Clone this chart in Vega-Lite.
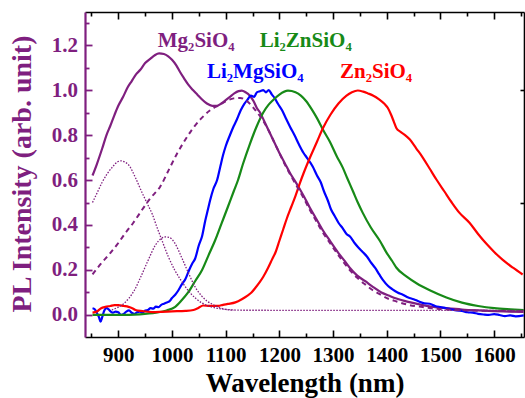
{
  "$schema": "https://vega.github.io/schema/vega-lite/v6.json",
  "width": 439,
  "height": 325,
  "autosize": "none",
  "padding": {"left": 85, "top": 12, "right": 1, "bottom": 61},
  "background": "white",
  "config": {
    "view": {"stroke": null},
    "axis": {"grid": false, "labelFont": "Liberation Serif", "titleFont": "Liberation Serif", "labelFontWeight": "bold", "titleFontWeight": "bold", "labelFlush": false}
  },
  "resolve": {"axis": {"x": "independent", "y": "independent"}},
  "datasets": {
    "solid": [
      {"s":"Mg2SiO4","w":852,"v":0.62},{"s":"Mg2SiO4","w":860,"v":0.67},{"s":"Mg2SiO4","w":870,"v":0.74},{"s":"Mg2SiO4","w":878,"v":0.8},{"s":"Mg2SiO4","w":885,"v":0.84},{"s":"Mg2SiO4","w":893,"v":0.89},{"s":"Mg2SiO4","w":900,"v":0.93},{"s":"Mg2SiO4","w":909,"v":0.97},{"s":"Mg2SiO4","w":917,"v":1.01},{"s":"Mg2SiO4","w":925,"v":1.04},{"s":"Mg2SiO4","w":933,"v":1.07},{"s":"Mg2SiO4","w":941,"v":1.09},{"s":"Mg2SiO4","w":950,"v":1.12},{"s":"Mg2SiO4","w":960,"v":1.14},{"s":"Mg2SiO4","w":968,"v":1.155},{"s":"Mg2SiO4","w":976,"v":1.163},{"s":"Mg2SiO4","w":985,"v":1.16},{"s":"Mg2SiO4","w":993,"v":1.15},{"s":"Mg2SiO4","w":1000,"v":1.135},{"s":"Mg2SiO4","w":1008,"v":1.11},{"s":"Mg2SiO4","w":1015,"v":1.08},{"s":"Mg2SiO4","w":1023,"v":1.05},{"s":"Mg2SiO4","w":1030,"v":1.025},{"s":"Mg2SiO4","w":1039,"v":1.0},{"s":"Mg2SiO4","w":1047,"v":0.98},{"s":"Mg2SiO4","w":1055,"v":0.96},{"s":"Mg2SiO4","w":1065,"v":0.94},{"s":"Mg2SiO4","w":1075,"v":0.93},{"s":"Mg2SiO4","w":1084,"v":0.93},{"s":"Mg2SiO4","w":1092,"v":0.94},{"s":"Mg2SiO4","w":1100,"v":0.955},{"s":"Mg2SiO4","w":1108,"v":0.97},{"s":"Mg2SiO4","w":1116,"v":0.985},{"s":"Mg2SiO4","w":1124,"v":0.995},{"s":"Mg2SiO4","w":1130,"v":0.997},{"s":"Mg2SiO4","w":1137,"v":0.99},{"s":"Mg2SiO4","w":1145,"v":0.975},{"s":"Mg2SiO4","w":1152,"v":0.95},{"s":"Mg2SiO4","w":1158,"v":0.92},{"s":"Mg2SiO4","w":1164,"v":0.9},{"s":"Mg2SiO4","w":1172,"v":0.86},{"s":"Mg2SiO4","w":1180,"v":0.82},{"s":"Mg2SiO4","w":1190,"v":0.77},{"s":"Mg2SiO4","w":1200,"v":0.72},{"s":"Mg2SiO4","w":1210,"v":0.675},{"s":"Mg2SiO4","w":1220,"v":0.63},{"s":"Mg2SiO4","w":1233,"v":0.58},{"s":"Mg2SiO4","w":1245,"v":0.53},{"s":"Mg2SiO4","w":1256,"v":0.48},{"s":"Mg2SiO4","w":1268,"v":0.43},{"s":"Mg2SiO4","w":1280,"v":0.38},{"s":"Mg2SiO4","w":1294,"v":0.33},{"s":"Mg2SiO4","w":1310,"v":0.275},{"s":"Mg2SiO4","w":1320,"v":0.245},{"s":"Mg2SiO4","w":1331,"v":0.21},{"s":"Mg2SiO4","w":1345,"v":0.175},{"s":"Mg2SiO4","w":1360,"v":0.15},{"s":"Mg2SiO4","w":1374,"v":0.125},{"s":"Mg2SiO4","w":1390,"v":0.1},{"s":"Mg2SiO4","w":1405,"v":0.085},{"s":"Mg2SiO4","w":1418,"v":0.073},{"s":"Mg2SiO4","w":1440,"v":0.058},{"s":"Mg2SiO4","w":1467,"v":0.044},{"s":"Mg2SiO4","w":1490,"v":0.035},{"s":"Mg2SiO4","w":1511,"v":0.03},{"s":"Mg2SiO4","w":1540,"v":0.024},{"s":"Mg2SiO4","w":1570,"v":0.02},{"s":"Mg2SiO4","w":1600,"v":0.017},{"s":"Mg2SiO4","w":1630,"v":0.015},{"s":"Mg2SiO4","w":1655,"v":0.013},
      {"s":"Li2MgSiO4","w":852,"v":0.03},{"s":"Li2MgSiO4","w":856,"v":0.025},{"s":"Li2MgSiO4","w":860,"v":0.01},{"s":"Li2MgSiO4","w":864,"v":-0.01},{"s":"Li2MgSiO4","w":867,"v":-0.03},{"s":"Li2MgSiO4","w":870,"v":-0.01},{"s":"Li2MgSiO4","w":874,"v":0.02},{"s":"Li2MgSiO4","w":878,"v":0.03},{"s":"Li2MgSiO4","w":882,"v":0.025},{"s":"Li2MgSiO4","w":886,"v":0.015},{"s":"Li2MgSiO4","w":890,"v":0.01},{"s":"Li2MgSiO4","w":895,"v":0.015},{"s":"Li2MgSiO4","w":900,"v":0.012},{"s":"Li2MgSiO4","w":905,"v":0.0},{"s":"Li2MgSiO4","w":910,"v":0.005},{"s":"Li2MgSiO4","w":915,"v":0.015},{"s":"Li2MgSiO4","w":920,"v":0.02},{"s":"Li2MgSiO4","w":925,"v":0.01},{"s":"Li2MgSiO4","w":930,"v":0.005},{"s":"Li2MgSiO4","w":935,"v":0.012},{"s":"Li2MgSiO4","w":940,"v":0.015},{"s":"Li2MgSiO4","w":945,"v":0.01},{"s":"Li2MgSiO4","w":950,"v":0.02},{"s":"Li2MgSiO4","w":955,"v":0.022},{"s":"Li2MgSiO4","w":960,"v":0.03},{"s":"Li2MgSiO4","w":965,"v":0.028},{"s":"Li2MgSiO4","w":970,"v":0.037},{"s":"Li2MgSiO4","w":975,"v":0.035},{"s":"Li2MgSiO4","w":980,"v":0.045},{"s":"Li2MgSiO4","w":985,"v":0.05},{"s":"Li2MgSiO4","w":990,"v":0.055},{"s":"Li2MgSiO4","w":995,"v":0.06},{"s":"Li2MgSiO4","w":1000,"v":0.075},{"s":"Li2MgSiO4","w":1006,"v":0.09},{"s":"Li2MgSiO4","w":1012,"v":0.11},{"s":"Li2MgSiO4","w":1018,"v":0.135},{"s":"Li2MgSiO4","w":1025,"v":0.16},{"s":"Li2MgSiO4","w":1032,"v":0.2},{"s":"Li2MgSiO4","w":1038,"v":0.23},{"s":"Li2MgSiO4","w":1043,"v":0.25},{"s":"Li2MgSiO4","w":1050,"v":0.31},{"s":"Li2MgSiO4","w":1056,"v":0.35},{"s":"Li2MgSiO4","w":1062,"v":0.42},{"s":"Li2MgSiO4","w":1067,"v":0.47},{"s":"Li2MgSiO4","w":1071,"v":0.51},{"s":"Li2MgSiO4","w":1077,"v":0.56},{"s":"Li2MgSiO4","w":1084,"v":0.6},{"s":"Li2MgSiO4","w":1090,"v":0.66},{"s":"Li2MgSiO4","w":1095,"v":0.71},{"s":"Li2MgSiO4","w":1100,"v":0.75},{"s":"Li2MgSiO4","w":1108,"v":0.8},{"s":"Li2MgSiO4","w":1115,"v":0.84},{"s":"Li2MgSiO4","w":1121,"v":0.87},{"s":"Li2MgSiO4","w":1128,"v":0.91},{"s":"Li2MgSiO4","w":1135,"v":0.94},{"s":"Li2MgSiO4","w":1140,"v":0.955},{"s":"Li2MgSiO4","w":1147,"v":0.975},{"s":"Li2MgSiO4","w":1153,"v":0.97},{"s":"Li2MgSiO4","w":1158,"v":0.99},{"s":"Li2MgSiO4","w":1164,"v":0.995},{"s":"Li2MgSiO4","w":1170,"v":1.0},{"s":"Li2MgSiO4","w":1175,"v":0.99},{"s":"Li2MgSiO4","w":1180,"v":1.0},{"s":"Li2MgSiO4","w":1186,"v":0.98},{"s":"Li2MgSiO4","w":1191,"v":0.965},{"s":"Li2MgSiO4","w":1197,"v":0.94},{"s":"Li2MgSiO4","w":1205,"v":0.91},{"s":"Li2MgSiO4","w":1212,"v":0.875},{"s":"Li2MgSiO4","w":1220,"v":0.836},{"s":"Li2MgSiO4","w":1228,"v":0.8},{"s":"Li2MgSiO4","w":1236,"v":0.76},{"s":"Li2MgSiO4","w":1245,"v":0.72},{"s":"Li2MgSiO4","w":1251,"v":0.7},{"s":"Li2MgSiO4","w":1262,"v":0.66},{"s":"Li2MgSiO4","w":1270,"v":0.62},{"s":"Li2MgSiO4","w":1277,"v":0.59},{"s":"Li2MgSiO4","w":1283,"v":0.55},{"s":"Li2MgSiO4","w":1290,"v":0.51},{"s":"Li2MgSiO4","w":1296,"v":0.47},{"s":"Li2MgSiO4","w":1303,"v":0.44},{"s":"Li2MgSiO4","w":1310,"v":0.41},{"s":"Li2MgSiO4","w":1318,"v":0.385},{"s":"Li2MgSiO4","w":1325,"v":0.36},{"s":"Li2MgSiO4","w":1331,"v":0.35},{"s":"Li2MgSiO4","w":1340,"v":0.32},{"s":"Li2MgSiO4","w":1347,"v":0.3},{"s":"Li2MgSiO4","w":1355,"v":0.28},{"s":"Li2MgSiO4","w":1363,"v":0.26},{"s":"Li2MgSiO4","w":1370,"v":0.235},{"s":"Li2MgSiO4","w":1378,"v":0.21},{"s":"Li2MgSiO4","w":1386,"v":0.18},{"s":"Li2MgSiO4","w":1393,"v":0.155},{"s":"Li2MgSiO4","w":1402,"v":0.13},{"s":"Li2MgSiO4","w":1410,"v":0.115},{"s":"Li2MgSiO4","w":1420,"v":0.1},{"s":"Li2MgSiO4","w":1430,"v":0.09},{"s":"Li2MgSiO4","w":1440,"v":0.078},{"s":"Li2MgSiO4","w":1450,"v":0.07},{"s":"Li2MgSiO4","w":1460,"v":0.06},{"s":"Li2MgSiO4","w":1470,"v":0.052},{"s":"Li2MgSiO4","w":1480,"v":0.05},{"s":"Li2MgSiO4","w":1490,"v":0.04},{"s":"Li2MgSiO4","w":1500,"v":0.035},{"s":"Li2MgSiO4","w":1511,"v":0.03},{"s":"Li2MgSiO4","w":1520,"v":0.025},{"s":"Li2MgSiO4","w":1530,"v":0.02},{"s":"Li2MgSiO4","w":1540,"v":0.018},{"s":"Li2MgSiO4","w":1550,"v":0.012},{"s":"Li2MgSiO4","w":1560,"v":0.01},{"s":"Li2MgSiO4","w":1570,"v":0.005},{"s":"Li2MgSiO4","w":1580,"v":0.002},{"s":"Li2MgSiO4","w":1590,"v":0.0},{"s":"Li2MgSiO4","w":1600,"v":0.004},{"s":"Li2MgSiO4","w":1610,"v":0.0},{"s":"Li2MgSiO4","w":1620,"v":-0.005},{"s":"Li2MgSiO4","w":1630,"v":-0.002},{"s":"Li2MgSiO4","w":1640,"v":-0.006},{"s":"Li2MgSiO4","w":1655,"v":-0.002},
      {"s":"Li2ZnSiO4","w":852,"v":0.0},{"s":"Li2ZnSiO4","w":900,"v":0.0},{"s":"Li2ZnSiO4","w":940,"v":0.003},{"s":"Li2ZnSiO4","w":970,"v":0.01},{"s":"Li2ZnSiO4","w":990,"v":0.02},{"s":"Li2ZnSiO4","w":1006,"v":0.036},{"s":"Li2ZnSiO4","w":1018,"v":0.065},{"s":"Li2ZnSiO4","w":1030,"v":0.1},{"s":"Li2ZnSiO4","w":1043,"v":0.15},{"s":"Li2ZnSiO4","w":1056,"v":0.2},{"s":"Li2ZnSiO4","w":1068,"v":0.265},{"s":"Li2ZnSiO4","w":1080,"v":0.33},{"s":"Li2ZnSiO4","w":1092,"v":0.405},{"s":"Li2ZnSiO4","w":1104,"v":0.48},{"s":"Li2ZnSiO4","w":1115,"v":0.55},{"s":"Li2ZnSiO4","w":1123,"v":0.6},{"s":"Li2ZnSiO4","w":1132,"v":0.67},{"s":"Li2ZnSiO4","w":1145,"v":0.76},{"s":"Li2ZnSiO4","w":1158,"v":0.84},{"s":"Li2ZnSiO4","w":1170,"v":0.9},{"s":"Li2ZnSiO4","w":1180,"v":0.935},{"s":"Li2ZnSiO4","w":1188,"v":0.955},{"s":"Li2ZnSiO4","w":1200,"v":0.98},{"s":"Li2ZnSiO4","w":1216,"v":0.997},{"s":"Li2ZnSiO4","w":1230,"v":0.99},{"s":"Li2ZnSiO4","w":1240,"v":0.975},{"s":"Li2ZnSiO4","w":1250,"v":0.95},{"s":"Li2ZnSiO4","w":1260,"v":0.915},{"s":"Li2ZnSiO4","w":1270,"v":0.875},{"s":"Li2ZnSiO4","w":1282,"v":0.82},{"s":"Li2ZnSiO4","w":1294,"v":0.77},{"s":"Li2ZnSiO4","w":1307,"v":0.705},{"s":"Li2ZnSiO4","w":1318,"v":0.655},{"s":"Li2ZnSiO4","w":1326,"v":0.61},{"s":"Li2ZnSiO4","w":1337,"v":0.55},{"s":"Li2ZnSiO4","w":1346,"v":0.5},{"s":"Li2ZnSiO4","w":1355,"v":0.455},{"s":"Li2ZnSiO4","w":1370,"v":0.39},{"s":"Li2ZnSiO4","w":1387,"v":0.33},{"s":"Li2ZnSiO4","w":1400,"v":0.275},{"s":"Li2ZnSiO4","w":1410,"v":0.24},{"s":"Li2ZnSiO4","w":1418,"v":0.21},{"s":"Li2ZnSiO4","w":1437,"v":0.17},{"s":"Li2ZnSiO4","w":1456,"v":0.14},{"s":"Li2ZnSiO4","w":1480,"v":0.11},{"s":"Li2ZnSiO4","w":1511,"v":0.078},{"s":"Li2ZnSiO4","w":1540,"v":0.055},{"s":"Li2ZnSiO4","w":1570,"v":0.04},{"s":"Li2ZnSiO4","w":1600,"v":0.03},{"s":"Li2ZnSiO4","w":1630,"v":0.025},{"s":"Li2ZnSiO4","w":1655,"v":0.022},
      {"s":"Zn2SiO4","w":852,"v":0.01},{"s":"Zn2SiO4","w":860,"v":0.015},{"s":"Zn2SiO4","w":868,"v":0.03},{"s":"Zn2SiO4","w":876,"v":0.036},{"s":"Zn2SiO4","w":885,"v":0.04},{"s":"Zn2SiO4","w":893,"v":0.044},{"s":"Zn2SiO4","w":900,"v":0.044},{"s":"Zn2SiO4","w":910,"v":0.04},{"s":"Zn2SiO4","w":919,"v":0.036},{"s":"Zn2SiO4","w":926,"v":0.03},{"s":"Zn2SiO4","w":932,"v":0.022},{"s":"Zn2SiO4","w":945,"v":0.017},{"s":"Zn2SiO4","w":963,"v":0.013},{"s":"Zn2SiO4","w":980,"v":0.014},{"s":"Zn2SiO4","w":1000,"v":0.016},{"s":"Zn2SiO4","w":1025,"v":0.018},{"s":"Zn2SiO4","w":1040,"v":0.022},{"s":"Zn2SiO4","w":1049,"v":0.031},{"s":"Zn2SiO4","w":1058,"v":0.042},{"s":"Zn2SiO4","w":1070,"v":0.04},{"s":"Zn2SiO4","w":1086,"v":0.04},{"s":"Zn2SiO4","w":1095,"v":0.045},{"s":"Zn2SiO4","w":1104,"v":0.049},{"s":"Zn2SiO4","w":1118,"v":0.056},{"s":"Zn2SiO4","w":1130,"v":0.07},{"s":"Zn2SiO4","w":1140,"v":0.085},{"s":"Zn2SiO4","w":1148,"v":0.1},{"s":"Zn2SiO4","w":1155,"v":0.12},{"s":"Zn2SiO4","w":1163,"v":0.145},{"s":"Zn2SiO4","w":1170,"v":0.17},{"s":"Zn2SiO4","w":1179,"v":0.21},{"s":"Zn2SiO4","w":1186,"v":0.245},{"s":"Zn2SiO4","w":1193,"v":0.28},{"s":"Zn2SiO4","w":1200,"v":0.33},{"s":"Zn2SiO4","w":1207,"v":0.38},{"s":"Zn2SiO4","w":1214,"v":0.43},{"s":"Zn2SiO4","w":1222,"v":0.48},{"s":"Zn2SiO4","w":1230,"v":0.53},{"s":"Zn2SiO4","w":1238,"v":0.585},{"s":"Zn2SiO4","w":1245,"v":0.63},{"s":"Zn2SiO4","w":1257,"v":0.7},{"s":"Zn2SiO4","w":1270,"v":0.77},{"s":"Zn2SiO4","w":1281,"v":0.83},{"s":"Zn2SiO4","w":1295,"v":0.89},{"s":"Zn2SiO4","w":1310,"v":0.94},{"s":"Zn2SiO4","w":1325,"v":0.975},{"s":"Zn2SiO4","w":1335,"v":0.99},{"s":"Zn2SiO4","w":1346,"v":0.998},{"s":"Zn2SiO4","w":1356,"v":0.993},{"s":"Zn2SiO4","w":1365,"v":0.985},{"s":"Zn2SiO4","w":1375,"v":0.975},{"s":"Zn2SiO4","w":1385,"v":0.96},{"s":"Zn2SiO4","w":1395,"v":0.94},{"s":"Zn2SiO4","w":1402,"v":0.92},{"s":"Zn2SiO4","w":1408,"v":0.89},{"s":"Zn2SiO4","w":1413,"v":0.86},{"s":"Zn2SiO4","w":1418,"v":0.83},{"s":"Zn2SiO4","w":1425,"v":0.815},{"s":"Zn2SiO4","w":1434,"v":0.8},{"s":"Zn2SiO4","w":1443,"v":0.78},{"s":"Zn2SiO4","w":1455,"v":0.74},{"s":"Zn2SiO4","w":1467,"v":0.7},{"s":"Zn2SiO4","w":1480,"v":0.65},{"s":"Zn2SiO4","w":1493,"v":0.6},{"s":"Zn2SiO4","w":1507,"v":0.55},{"s":"Zn2SiO4","w":1521,"v":0.5},{"s":"Zn2SiO4","w":1535,"v":0.455},{"s":"Zn2SiO4","w":1554,"v":0.41},{"s":"Zn2SiO4","w":1570,"v":0.36},{"s":"Zn2SiO4","w":1586,"v":0.315},{"s":"Zn2SiO4","w":1600,"v":0.28},{"s":"Zn2SiO4","w":1616,"v":0.245},{"s":"Zn2SiO4","w":1635,"v":0.21},{"s":"Zn2SiO4","w":1653,"v":0.18}
    ],
    "dashed": [
      {"w":852,"v":0.18},{"w":865,"v":0.22},{"w":885,"v":0.275},{"w":900,"v":0.32},{"w":915,"v":0.37},{"w":928,"v":0.41},{"w":945,"v":0.47},{"w":960,"v":0.52},{"w":978,"v":0.57},{"w":995,"v":0.65},{"w":1010,"v":0.72},{"w":1025,"v":0.78},{"w":1039,"v":0.83},{"w":1055,"v":0.875},{"w":1071,"v":0.91},{"w":1085,"v":0.93},{"w":1100,"v":0.95},{"w":1115,"v":0.963},{"w":1127,"v":0.965},{"w":1140,"v":0.95},{"w":1152,"v":0.92},{"w":1165,"v":0.88},{"w":1180,"v":0.82},{"w":1190,"v":0.77},{"w":1200,"v":0.72},{"w":1210,"v":0.67},{"w":1220,"v":0.625},{"w":1233,"v":0.57},{"w":1245,"v":0.52},{"w":1256,"v":0.47},{"w":1268,"v":0.42},{"w":1280,"v":0.37},{"w":1294,"v":0.32},{"w":1310,"v":0.265},{"w":1331,"v":0.2},{"w":1345,"v":0.165},{"w":1360,"v":0.135},{"w":1374,"v":0.11},{"w":1390,"v":0.088},{"w":1405,"v":0.07},{"w":1418,"v":0.06},{"w":1440,"v":0.045},{"w":1467,"v":0.035},{"w":1490,"v":0.028},{"w":1511,"v":0.024},{"w":1550,"v":0.02},{"w":1600,"v":0.018},{"w":1655,"v":0.016}
    ],
    "g1": [
      {"w":852,"v":0.5},{"w":860,"v":0.54},{"w":870,"v":0.59},{"w":880,"v":0.63},{"w":890,"v":0.66},{"w":898,"v":0.68},{"w":905,"v":0.685},{"w":912,"v":0.68},{"w":920,"v":0.665},{"w":932,"v":0.61},{"w":945,"v":0.54},{"w":955,"v":0.49},{"w":963,"v":0.45},{"w":972,"v":0.39},{"w":980,"v":0.34},{"w":993,"v":0.26},{"w":1005,"v":0.2},{"w":1015,"v":0.16},{"w":1025,"v":0.125},{"w":1035,"v":0.095},{"w":1045,"v":0.072},{"w":1056,"v":0.053},{"w":1068,"v":0.04},{"w":1080,"v":0.032},{"w":1095,"v":0.026},{"w":1110,"v":0.023},{"w":1130,"v":0.021},{"w":1655,"v":0.02}
    ],
    "g2": [
      {"w":888,"v":0.022},{"w":900,"v":0.035},{"w":910,"v":0.05},{"w":920,"v":0.075},{"w":930,"v":0.11},{"w":942,"v":0.17},{"w":955,"v":0.24},{"w":969,"v":0.31},{"w":980,"v":0.34},{"w":988,"v":0.347},{"w":995,"v":0.345},{"w":1005,"v":0.32},{"w":1019,"v":0.25},{"w":1030,"v":0.19},{"w":1043,"v":0.125},{"w":1055,"v":0.085},{"w":1065,"v":0.062},{"w":1075,"v":0.048},{"w":1088,"v":0.033},{"w":1100,"v":0.025},{"w":1115,"v":0.021}
    ],
    "labels": [
      {"s":"Mg2SiO4","t":"Mg₂SiO₄","w":1045,"v":1.192},
      {"s":"Li2ZnSiO4","t":"Li₂ZnSiO₄","w":1249,"v":1.192},
      {"s":"Li2MgSiO4","t":"Li₂MgSiO₄","w":1155,"v":1.052},
      {"s":"Zn2SiO4","t":"Zn₂SiO₄","w":1380,"v":1.052}
    ]
  },
  "layer": [
    {
      "data": {"name": "solid"},
      "mark": {"type": "line", "strokeWidth": 2.2, "interpolate": "monotone"},
      "encoding": {
        "x": {"field": "w", "type": "quantitative", "scale": {"domain": [838, 1655.5], "nice": false, "zero": false},
          "axis": {"orient": "bottom", "values": [900,1000,1100,1200,1300,1400,1500,1600], "format": "d", "ticks": false, "labelPadding": 7, "labelFontSize": 21, "labelColor": "black", "domainColor": "black", "domainWidth": 1.6, "title": "Wavelength (nm)", "titleFontSize": 27, "titleColor": "black", "titleY": 54, "titleBaseline": "alphabetic"}},
        "y": {"field": "v", "type": "quantitative", "scale": {"domain": [-0.098, 1.347], "nice": false, "zero": false},
          "axis": {"orient": "left", "values": [0,0.2,0.4,0.6,0.8,1.0,1.2], "format": ".1f", "ticks": false, "labelPadding": 7.5, "labelFontSize": 21, "labelColor": "#7f1f7f", "domainColor": "#7f1f7f", "domainWidth": 2.2, "title": "PL Intensity (arb. unit)", "titleFontSize": 28, "titleColor": "#7f1f7f", "titleAngle": -90, "titleX": -55, "titleY": 161.5, "titleAlign": "center", "titleBaseline": "alphabetic"}},
        "color": {"field": "s", "type": "nominal", "scale": {"domain": ["Mg2SiO4","Li2MgSiO4","Li2ZnSiO4","Zn2SiO4"], "range": ["#7f1f7f","#0000ff","#178a17","#ff0000"]}, "legend": null}
      }
    },
    {
      "data": {"name": "dashed"},
      "mark": {"type": "line", "strokeWidth": 2, "strokeDash": [5, 4], "color": "#7f1f7f", "interpolate": "monotone"},
      "encoding": {
        "x": {"field": "w", "type": "quantitative", "scale": {"domain": [838, 1655.5], "nice": false, "zero": false},
          "axis": {"orient": "bottom", "values": [900,1000,1100,1200,1300,1400,1500,1600], "labels": false, "domain": false, "tickSize": -7, "tickWidth": 1.6, "tickColor": "black", "title": null}},
        "y": {"field": "v", "type": "quantitative", "scale": {"domain": [-0.098, 1.347], "nice": false, "zero": false},
          "axis": {"orient": "left", "values": [0,0.2,0.4,0.6,0.8,1.0,1.2], "labels": false, "domain": false, "tickSize": -7, "tickWidth": 1.8, "tickColor": "#7f1f7f", "title": null}}
      }
    },
    {
      "data": {"name": "g1"},
      "mark": {"type": "line", "strokeWidth": 1.3, "strokeDash": [1.5, 1.5], "color": "#7f1f7f", "interpolate": "monotone"},
      "encoding": {
        "x": {"field": "w", "type": "quantitative", "scale": {"domain": [838, 1655.5], "nice": false, "zero": false},
          "axis": {"orient": "bottom", "values": [850,950,1050,1150,1250,1350,1450,1550,1650], "labels": false, "domain": false, "tickSize": -4, "tickWidth": 1.6, "tickColor": "black", "title": null}},
        "y": {"field": "v", "type": "quantitative", "scale": {"domain": [-0.098, 1.347], "nice": false, "zero": false},
          "axis": {"orient": "left", "values": [0.1,0.3,0.5,0.7,0.9,1.1,1.3], "labels": false, "domain": false, "tickSize": -4, "tickWidth": 1.8, "tickColor": "#7f1f7f", "title": null}}
      }
    },
    {
      "data": {"name": "g2"},
      "mark": {"type": "line", "strokeWidth": 1.3, "strokeDash": [1.5, 1.5], "color": "#7f1f7f", "interpolate": "monotone"},
      "encoding": {
        "x": {"field": "w", "type": "quantitative", "scale": {"domain": [838, 1655.5], "nice": false, "zero": false},
          "axis": {"orient": "top", "values": [900,1000,1100,1200,1300,1400,1500,1600], "labels": false, "domain": true, "domainColor": "black", "domainWidth": 1.6, "tickSize": -7, "tickWidth": 1.6, "tickColor": "black", "title": null}},
        "y": {"field": "v", "type": "quantitative", "scale": {"domain": [-0.098, 1.347], "nice": false, "zero": false},
          "axis": {"orient": "right", "values": [0.5, 1.0], "labels": false, "domain": true, "domainColor": "black", "domainWidth": 1.6, "tickSize": -4, "tickWidth": 1.6, "tickColor": "black", "title": null}}
      }
    },
    {
      "data": {"name": "labels"},
      "mark": {"type": "text", "font": "Liberation Serif", "fontWeight": "bold", "fontSize": 21, "align": "center", "baseline": "alphabetic"},
      "encoding": {
        "x": {"field": "w", "type": "quantitative", "scale": {"domain": [838, 1655.5], "nice": false, "zero": false},
          "axis": {"orient": "top", "values": [850,950,1050,1150,1250,1350,1450,1550,1650], "labels": false, "domain": false, "tickSize": -4, "tickWidth": 1.6, "tickColor": "black", "title": null}},
        "y": {"field": "v", "type": "quantitative", "scale": {"domain": [-0.098, 1.347], "nice": false, "zero": false}, "axis": null},
        "text": {"field": "t"},
        "color": {"field": "s", "type": "nominal", "legend": null}
      }
    }
  ]
}
